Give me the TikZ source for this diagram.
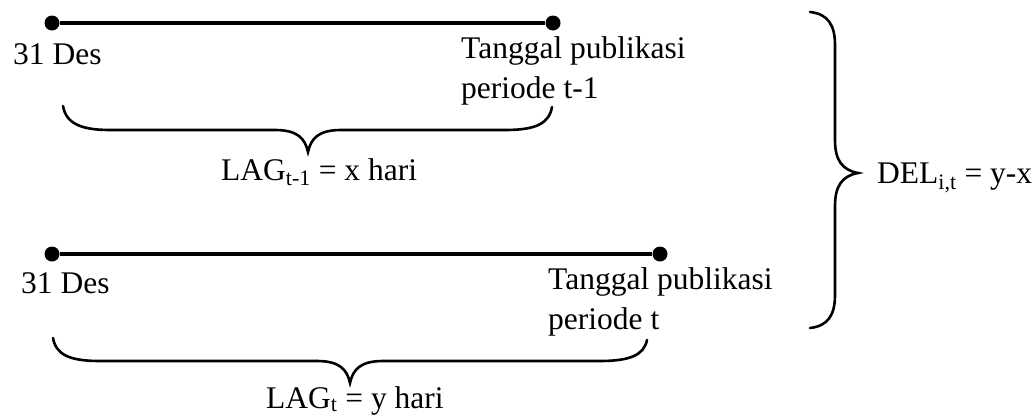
\documentclass[tikz,border=0pt]{standalone}
\usepackage{fontspec}
\setmainfont{Liberation Serif}
\begin{document}
\begin{tikzpicture}[x=1pt,y=-1pt,
  lbl/.style={inner sep=0pt, anchor=base west, font=\fontsize{31.5}{37}\selectfont},
  dot/.style={circle, fill=black, inner sep=0pt, minimum size=15pt},
  timeline/.style={line width=3.8pt},
  brace/.style={line width=2.6pt, line cap=round}]
\useasboundingbox (0,0) rectangle (1036,418);

% upper timeline: 31 Des -> publication date of period t-1
\node[dot] (a1) at (52,23) {};
\node[dot] (a2) at (553,23) {};
\draw[timeline] (a1) -- (a2);
\node[lbl] (a1l) at (13,64) {31 Des};
\node[lbl] (a2l) at (461,58) {Tanggal publikasi};
\node[lbl] (a2m) at (461,98) {periode t-1};

% brace under the upper timeline
\coordinate (b1s) at (63,106);
\coordinate (b1t) at (308,152);
\coordinate (b1e) at (552,107);
\draw[brace] (b1s) .. controls (66,123) and (80,130) .. (110,130)
  -- (275,130) .. controls (297,130) and (305,138) .. (b1t)
  .. controls (311,138) and (319,130) .. (341,130)
  -- (505,130) .. controls (535,130) and (549,124) .. (b1e);
\node[lbl] (lag1) at (221,180) {LAG\textsubscript{t-1} = x hari};

% lower timeline: 31 Des -> publication date of period t
\node[dot] (c1) at (52,254) {};
\node[dot] (c2) at (660,254) {};
\draw[timeline] (c1) -- (c2);
\node[lbl] (c1l) at (21,293) {31 Des};
\node[lbl] (c2l) at (548,289) {Tanggal publikasi};
\node[lbl] (c2m) at (548,329) {periode t};

% brace under the lower timeline
\coordinate (b2s) at (53,338);
\coordinate (b2t) at (350,383);
\coordinate (b2e) at (647,340);
\draw[brace] (b2s) .. controls (56,355) and (70,361) .. (100,361)
  -- (317,361) .. controls (339,361) and (347,369) .. (b2t)
  .. controls (353,369) and (361,361) .. (383,361)
  -- (600,361) .. controls (630,361) and (644,355) .. (b2e);
\node[lbl] (lag2) at (266,408) {LAG\textsubscript{t} = y hari};

% right brace joining both periods
\coordinate (r1) at (810,12);
\coordinate (rt) at (858,173);
\coordinate (r2) at (810,328);
\draw[brace] (r1) .. controls (828,14) and (835,25) .. (835,45)
  -- (835,140) .. controls (835,160) and (842,170) .. (rt)
  .. controls (842,176) and (835,186) .. (835,206)
  -- (835,295) .. controls (835,315) and (828,326) .. (r2);
\node[lbl] (del) at (877,183) {DEL\textsubscript{i,t} = y-x};
\end{tikzpicture}
\end{document}
